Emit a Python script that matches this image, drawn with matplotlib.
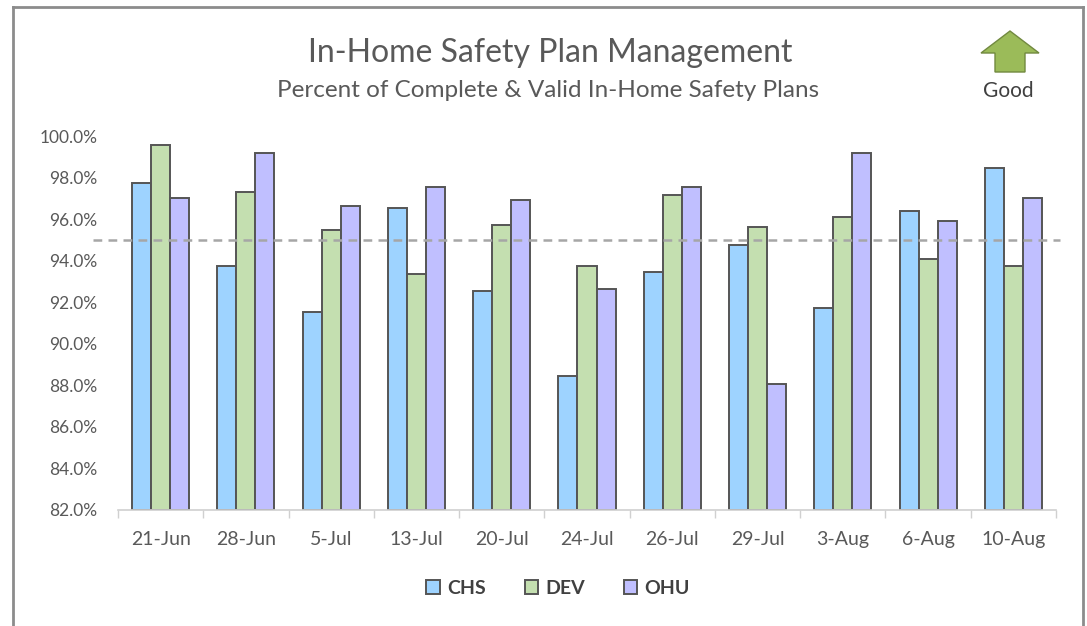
import matplotlib.pyplot as plt
import matplotlib.patches as mpatches
from matplotlib.lines import Line2D
from matplotlib.ticker import FuncFormatter, FixedLocator
import numpy as np

# data
weeks = ["21-Jun", "28-Jun", "5-Jul", "13-Jul", "20-Jul", "24-Jul",
         "26-Jul", "29-Jul", "3-Aug", "6-Aug", "10-Aug"]
chs = [97.75, 93.74, 91.55, 96.55, 92.54, 88.45, 93.44, 94.74, 91.70, 96.38, 98.46]
dev = [99.57, 97.30, 95.46, 93.36, 95.73, 93.74, 97.18, 95.64, 96.09, 94.10, 93.74]
ohu = [97.00, 99.20, 96.65, 97.55, 96.92, 92.62, 97.56, 88.07, 99.20, 95.91, 97.00]
target = 95.0

series = [("CHS", chs, "#9ed3ff"), ("DEV", dev, "#c4dfb0"), ("OHU", ohu, "#c0bfff")]

plt.rcParams['font.family'] = ['Lato', 'DejaVu Sans']
txt = "#595959"

W, H = 1087, 626
fig = plt.figure(figsize=(W / 100, H / 100), dpi=100)
ax = fig.add_axes([118 / W, 1 - 510 / H, (1056 - 118) / W, (510 - 136) / H])

x = np.arange(len(weeks))
bw = 0.223
for i, (name, vals, col) in enumerate(series):
    ax.bar(x + (i - 1) * bw, np.array(vals) - 82, bw, bottom=82, color=col,
           edgecolor="#555555", linewidth=1.4, label=name, zorder=2)

# target line, runs a little past the plot area like the original
ax.axhline(target, xmin=-0.027, xmax=1.004, color="#a6a6a6", lw=1.8,
           ls=(0, (3.5, 2.5)), clip_on=False, zorder=3)

ax.set_xlim(-0.5, len(weeks) - 0.5)
ax.set_ylim(82, 100)
ax.set_yticks(np.arange(82, 100.1, 2))
ax.yaxis.set_major_formatter(FuncFormatter(lambda v, p: f"{v:.1f}%"))
ax.set_xticks(x)
ax.set_xticklabels(weeks)
ax.xaxis.set_minor_locator(FixedLocator(np.arange(-0.5, len(weeks), 1)))
ax.tick_params(axis="x", which="major", length=0, pad=15, labelsize=14, colors=txt)
ax.tick_params(axis="x", which="minor", length=6, width=1, color="#d0d0d0", direction="out")
ax.tick_params(axis="y", length=0, pad=15, labelsize=12.5, colors=txt)
for s in ["top", "right", "left"]:
    ax.spines[s].set_visible(False)
ax.spines["bottom"].set_color("#d0d0d0")
ax.spines["bottom"].set_linewidth(1.2)

fig.text(550 / W, 1 - 62 / H, "In-Home Safety Plan Management", ha="center",
         va="baseline", fontsize=23, color=txt)
fig.text(548 / W, 1 - 97 / H, "Percent of Complete & Valid In-Home Safety Plans",
         ha="center", va="baseline", fontsize=17.5, color=txt)

# "Good" arrow in the top right corner
cx, ytip, ywing, ybot = 1010, 31, 53, 72
arrow = mpatches.Polygon([(cx / W, 1 - ytip / H), ((cx + 29) / W, 1 - ywing / H),
                          ((cx + 15) / W, 1 - ywing / H), ((cx + 15) / W, 1 - ybot / H),
                          ((cx - 15) / W, 1 - ybot / H), ((cx - 15) / W, 1 - ywing / H),
                          ((cx - 29) / W, 1 - ywing / H)], closed=True,
                         transform=fig.transFigure, facecolor="#9bbb59",
                         edgecolor="#71893f", lw=1)
fig.patches.append(arrow)
fig.text(1008 / W, 1 - 91 / H, "Good", ha="center", va="center", fontsize=15, color="#404040")

handles = [mpatches.Patch(facecolor=c, edgecolor="#555555", lw=1.4, label=n) for n, _, c in series]
leg = fig.legend(handles=handles, loc="center", bbox_to_anchor=(558 / W, 1 - 588 / H),
                 ncol=3, frameon=False, handlelength=0.7, handleheight=0.7,
                 columnspacing=2.0, handletextpad=0.36,
                 prop={"weight": "bold", "size": 14})
for t in leg.get_texts():
    t.set_color("#404040")

# outer frame (bottom edge lies off the image)
fc = "#8c8c8c"
fig.add_artist(Line2D([13 / W, 13 / W], [0, 1 - 7 / H], color=fc, lw=2, transform=fig.transFigure))
fig.add_artist(Line2D([13 / W, 1083 / W], [1 - 7 / H, 1 - 7 / H], color=fc, lw=2, transform=fig.transFigure))
fig.add_artist(Line2D([1083 / W, 1083 / W], [0, 1 - 7 / H], color=fc, lw=2, transform=fig.transFigure))

fig.savefig("out.png", dpi=100)
